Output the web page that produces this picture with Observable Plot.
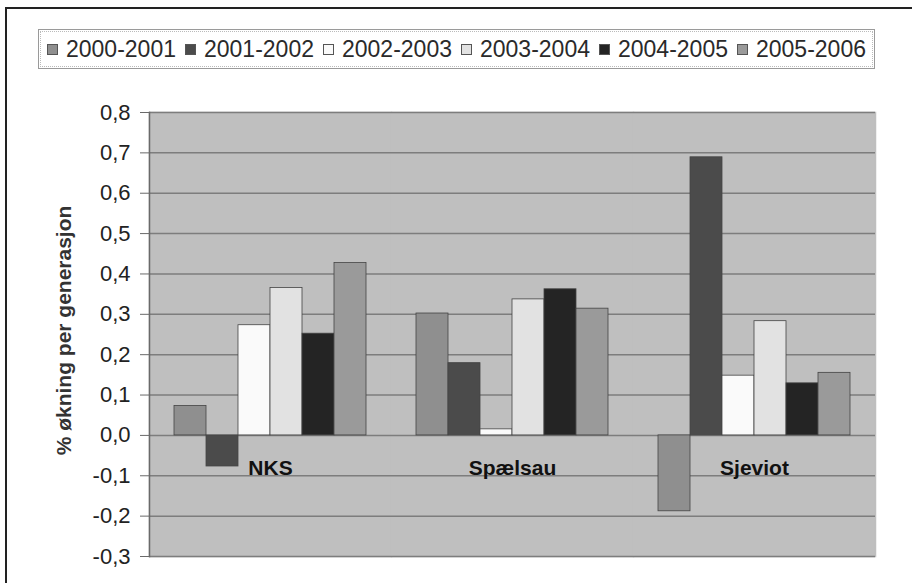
<!DOCTYPE html>
<html>
<head>
<meta charset="utf-8">
<script src="https://cdn.jsdelivr.net/npm/d3@7"></script>
<script src="https://cdn.jsdelivr.net/npm/@observablehq/plot@0.6"></script>
<style>
  html, body { margin: 0; padding: 0; background: #fff; }
  #wrap { position: relative; width: 912px; height: 583px; overflow: hidden; font-family: "Liberation Sans", Arial, sans-serif; }
  #frame { position: absolute; left: 5px; top: 7px; width: 920px; height: 600px; border-left: 2px solid #222; border-top: 2px solid #222; box-sizing: border-box; }
  #head { position: relative; height: 80px; }
  #legend { position: absolute; left: 38px; top: 29px; width: 837px; height: 40px; box-sizing: border-box;
            border: 1px solid #9a9a9a; outline: 1px dotted #bbb; outline-offset: -3px;
            display: flex; align-items: center; padding-left: 8px; font-size: 23px; color: #2a2a2a; }
  .item { display: flex; align-items: center; margin-right: 9px; white-space: nowrap; }
  .sw { width: 9px; height: 9px; border: 1px solid #555; margin-right: 8px; }
  #chart { position: relative; }
</style>
</head>
<body>
<div id="wrap">
  <div id="frame"></div>
  <div id="head"><div id="legend"></div></div>
  <div id="chart"></div>
</div>
<script>
// ---- data ----
const categories = ["NKS", "Spælsau", "Sjeviot"];
const seriesNames = ["2000-2001", "2001-2002", "2002-2003", "2003-2004", "2004-2005", "2005-2006"];
const seriesColors = ["#8f8f8f", "#4b4b4b", "#fafafa", "#e2e2e2", "#242424", "#9a9a9a"];
const v2000_2001 = [0.073, 0.302, -0.188];
const v2001_2002 = [-0.077, 0.179, 0.689];
const v2002_2003 = [0.273, 0.015, 0.148];
const v2003_2004 = [0.365, 0.337, 0.283];
const v2004_2005 = [0.252, 0.362, 0.129];
const v2005_2006 = [0.427, 0.314, 0.155];
const yTicks = [-0.3, -0.2, -0.1, 0.0, 0.1, 0.2, 0.3, 0.4, 0.5, 0.6, 0.7, 0.8];
const yTitle = "% økning per generasjon";

const seriesValues = [v2000_2001, v2001_2002, v2002_2003, v2003_2004, v2004_2005, v2005_2006];
const table = [];
categories.forEach((g, gi) => {
  seriesNames.forEach((s, si) => table.push({group: g, series: s, value: seriesValues[si][gi]}));
});

// ---- legend ----
const leg = document.getElementById("legend");
seriesNames.forEach((s, i) => {
  const it = document.createElement("div");
  it.className = "item";
  const sw = document.createElement("div");
  sw.className = "sw";
  sw.style.background = seriesColors[i];
  const tx = document.createElement("span");
  tx.textContent = s;
  it.appendChild(sw); it.appendChild(tx);
  leg.appendChild(it);
});

const fmt = d => d.toFixed(1).replace(".", ",").replace("−", "-");

const chart = Plot.plot({
  width: 912,
  height: 503,
  marginTop: 32,
  marginBottom: 27,
  marginLeft: 148,
  marginRight: 37,
  style: {fontFamily: "'Liberation Sans', Arial, sans-serif", background: "transparent"},
  fx: {domain: categories, padding: 0, axis: null},
  x: {domain: seriesNames, paddingInner: 0, paddingOuter: 0.73, axis: null},
  y: {domain: [-0.3, 0.8]},
  color: {domain: seriesNames, range: seriesColors},
  marks: [
    Plot.frame({fill: "#bfbfbf", stroke: "#bfbfbf", strokeWidth: 1.5}),
    Plot.gridY(yTicks, {stroke: "#7d7d7d", strokeOpacity: 1, strokeWidth: 1.5}),
    Plot.frame({anchor: "left", stroke: "#6a6a6a", strokeWidth: 1.5, facetAnchor: "left"}),
    Plot.axisY(yTicks, {anchor: "left", tickSize: 9, tickPadding: 10, tickFormat: fmt, fontSize: 22, fill: "#222", stroke: "#6a6a6a", label: null}),
    Plot.barY(table, {fx: "group", x: "series", y: "value", fill: "series", stroke: "#444", strokeWidth: 0.8}),
    Plot.text(categories, {fx: d => d, text: d => d, y: d => 0, dy: 33, fontSize: 21, fontWeight: "bold", fill: "#111"}),
    Plot.text([yTitle], {frameAnchor: "left", textAnchor: "middle", dx: -85, dy: -4, rotate: -90, fontSize: 21, fontWeight: "bold", fill: "#333", facetAnchor: "left"})
  ]
});
document.getElementById("chart").appendChild(chart);
</script>
</body>
</html>
